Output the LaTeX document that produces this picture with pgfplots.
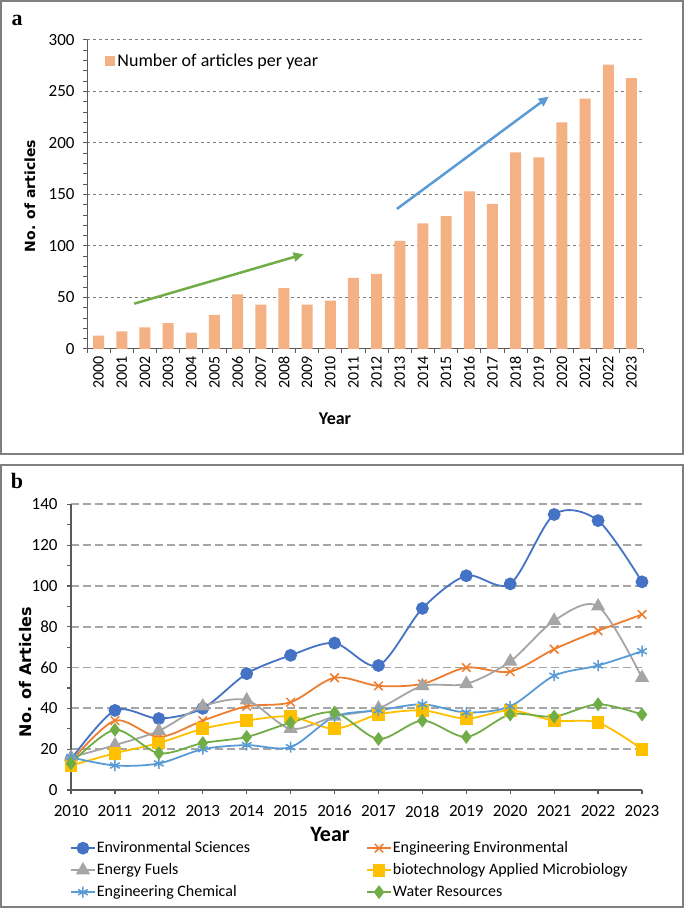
\documentclass[border=0pt]{standalone}
\usepackage{pgfplots}
\pgfplotsset{compat=1.18}
\usepackage{fontspec}
\setmainfont{Carlito}
\newfontfamily\dvs{DejaVu Sans}
\newfontfamily\lser{Liberation Serif}
\usetikzlibrary{arrows.meta}
\definecolor{barc}{HTML}{F4B183}
\definecolor{esc}{HTML}{4472C4}
\definecolor{eec}{HTML}{ED7D31}
\definecolor{efc}{HTML}{A5A5A5}
\definecolor{bac}{HTML}{FFC000}
\definecolor{ecc}{HTML}{5B9BD5}
\definecolor{wrc}{HTML}{70AD47}
\definecolor{gridc}{HTML}{7F7F7F}
\definecolor{gridb}{HTML}{A6A6A6}
\definecolor{framec}{HTML}{7F7F7F}
\definecolor{axc}{HTML}{595959}

\begin{document}
\begin{tikzpicture}[x=1bp,y=1bp]
\useasboundingbox (0,0) rectangle (685,909);
\draw[framec, line width=1.5bp] (1,908) rectangle (683,455);
\draw[framec, line width=1.5bp] (1,444) rectangle (683,2);
\node[font=\lser\bfseries\fontsize{22bp}{24bp}\selectfont] at (17,889) {a};
\node[font=\lser\bfseries\fontsize{22bp}{24bp}\selectfont] at (17,428) {b};

% ---------------- panel a ----------------
\begin{axis}[
  at={(87bp,560bp)}, anchor=south west, scale only axis,
  width=556bp, height=309bp,
  ybar, bar width=11bp,
  xmin=-0.5, xmax=23.5, ymin=0, ymax=300,
  axis lines*=left,
  axis line style={axc, line width=1bp},
  tick align=outside,
  tick style={axc, line width=1bp},
  major tick length=4bp, minor tick length=4bp,
  xtick={0,...,23},
  xticklabels={2000,2001,2002,2003,2004,2005,2006,2007,2008,2009,2010,2011,2012,2013,2014,2015,2016,2017,2018,2019,2020,2021,2022,2023},
  major x tick style={draw=none},
  minor xtick={-0.5,0.5,...,23.5},
  ytick={0,50,...,300},
  minor ytick={10,20,30,40,60,70,80,90,110,120,130,140,160,170,180,190,210,220,230,240,260,270,280,290},
  ymajorgrids,
  grid style={gridc, line width=1bp, dash pattern=on 3bp off 3bp},
  /pgf/number format/assume math mode=true,
  ticklabel style={font=\fontsize{17bp}{19bp}\selectfont},
  xticklabel style={rotate=90, anchor=east, font=\fontsize{16bp}{18bp}\selectfont},
  yticklabel style={xshift=-5bp},
  xlabel={Year},
  xlabel style={font=\bfseries\fontsize{18bp}{20bp}\selectfont, at={(axis description cs:0.446,-0.2265)}, anchor=center},
  ylabel={No. of articles},
  ylabel style={font=\dvs\bfseries\fontsize{14bp}{16bp}\selectfont, at={(axis description cs:-0.1025,0.495)}, anchor=center},
  legend style={draw=none, fill=none, at={(0.032,0.932)}, anchor=west, inner sep=0pt,
    font=\fontsize{18bp}{20bp}\selectfont, nodes={inner sep=2.5bp}},
  legend image code/.code={\fill[barc] (0bp,-5bp) rectangle (10bp,5bp);},
]
\addplot[fill=barc, draw=none] coordinates {
(0,13) (1,17) (2,21) (3,25) (4,16) (5,33) (6,53) (7,43) (8,59) (9,43) (10,47) (11,69)
(12,73) (13,105) (14,122) (15,129) (16,153) (17,141) (18,191) (19,186) (20,220) (21,243) (22,276) (23,263)};
\addlegendentry{Number of articles per year}
\draw[wrc, line width=2.5bp, -{Triangle[length=10bp,width=9bp]}] (axis cs:1.54,44) -- (axis cs:8.85,92);
\draw[ecc, line width=2.5bp, -{Triangle[length=10bp,width=9bp]}] (axis cs:12.88,136) -- (axis cs:19.43,245);
\end{axis}

% ---------------- panel b ----------------
\begin{axis}[
  at={(71bp,119bp)}, anchor=south west, scale only axis,
  width=571bp, height=285.7bp,
  xmin=2010, xmax=2023, ymin=0, ymax=140,
  axis lines*=left,
  axis line style={axc, line width=1.2bp},
  tick align=outside,
  tick style={axc, line width=1.2bp},
  major tick length=4bp, minor tick length=4bp,
  xtick={2010,...,2023},
  ytick={0,20,...,140},
  minor ytick={10,30,50,70,90,110,130},
  ymajorgrids,
  grid style={gridb, line width=1.8bp, dash pattern=on 8bp off 4bp},
  /pgf/number format/assume math mode=true,
  /pgf/number format/1000 sep={},
  ticklabel style={font=\fontsize{17bp}{19bp}\selectfont},
  xticklabel style={yshift=-8bp},
  yticklabel style={xshift=-6bp},
  xlabel={Year},
  xlabel style={font=\bfseries\fontsize{22bp}{24bp}\selectfont, at={(axis description cs:0.4536,-0.154)}, anchor=center},
  ylabel={No. of Articles},
  ylabel style={font=\dvs\bfseries\fontsize{16bp}{18bp}\selectfont, at={(axis description cs:-0.0788,0.413)}, anchor=center},
  legend columns=2,
  legend style={draw=none, fill=none, at={(-0.002,-0.175)}, anchor=north west, inner sep=0pt,
    font=\fontsize{16bp}{18bp}\selectfont, row sep=6bp,
    nodes={inner sep=1bp, text height=11bp, text depth=3bp},
    cells={anchor=west},
    /tikz/column 2/.append style={column sep=115bp}},
  legend image code/.code={\draw[mark repeat=2,mark phase=2] plot coordinates {(0bp,0bp) (12bp,0bp) (24bp,0bp)};},
  every axis plot/.append style={line width=1.8bp, smooth, tension=0.5},
]
\addplot[esc, mark=*, mark size=5.5bp, mark options={solid, fill=esc}] coordinates {
(2010,15) (2011,39) (2012,35) (2013,40) (2014,57) (2015,66) (2016,72) (2017,61) (2018,89) (2019,105) (2020,101) (2021,135) (2022,132) (2023,102)};
\addlegendentry{Environmental Sciences}
\addplot[eec, mark=x, mark size=6bp, mark options={solid, line width=1.5bp}] coordinates {
(2010,14) (2011,34) (2012,26) (2013,34) (2014,41) (2015,43) (2016,55) (2017,51) (2018,52) (2019,60) (2020,58) (2021,69) (2022,78) (2023,86)};
\addlegendentry{Engineering Environmental}
\addplot[efc, mark=triangle*, mark size=6.5bp, mark options={solid, fill=efc}] coordinates {
(2010,16) (2011,22) (2012,29) (2013,41) (2014,44) (2015,30) (2016,36) (2017,40) (2018,51) (2019,52) (2020,63) (2021,83) (2022,90) (2023,55)};
\addlegendentry{Energy Fuels}
\addplot[bac, mark=square*, mark size=5.5bp, mark options={solid, fill=bac}] coordinates {
(2010,12) (2011,18) (2012,23) (2013,30) (2014,34) (2015,36) (2016,30) (2017,37) (2018,39) (2019,35) (2020,39) (2021,34) (2022,33) (2023,20)};
\addlegendentry{biotechnology Applied Microbiology}
\addplot[ecc, mark=asterisk, mark size=5.5bp, mark options={solid, line width=1.5bp}] coordinates {
(2010,16) (2011,12) (2012,13) (2013,20) (2014,22) (2015,21) (2016,36) (2017,39) (2018,42) (2019,38) (2020,41) (2021,56) (2022,61) (2023,68)};
\addlegendentry{Engineering Chemical}
\addplot[wrc, mark=diamond*, mark size=5.5bp, mark options={solid, fill=wrc}] coordinates {
(2010,13) (2011,29.5) (2012,18) (2013,23) (2014,26) (2015,33) (2016,38) (2017,25) (2018,34) (2019,26) (2020,37) (2021,36) (2022,42) (2023,37)};
\addlegendentry{Water Resources}
\end{axis}
\end{tikzpicture}
\end{document}
